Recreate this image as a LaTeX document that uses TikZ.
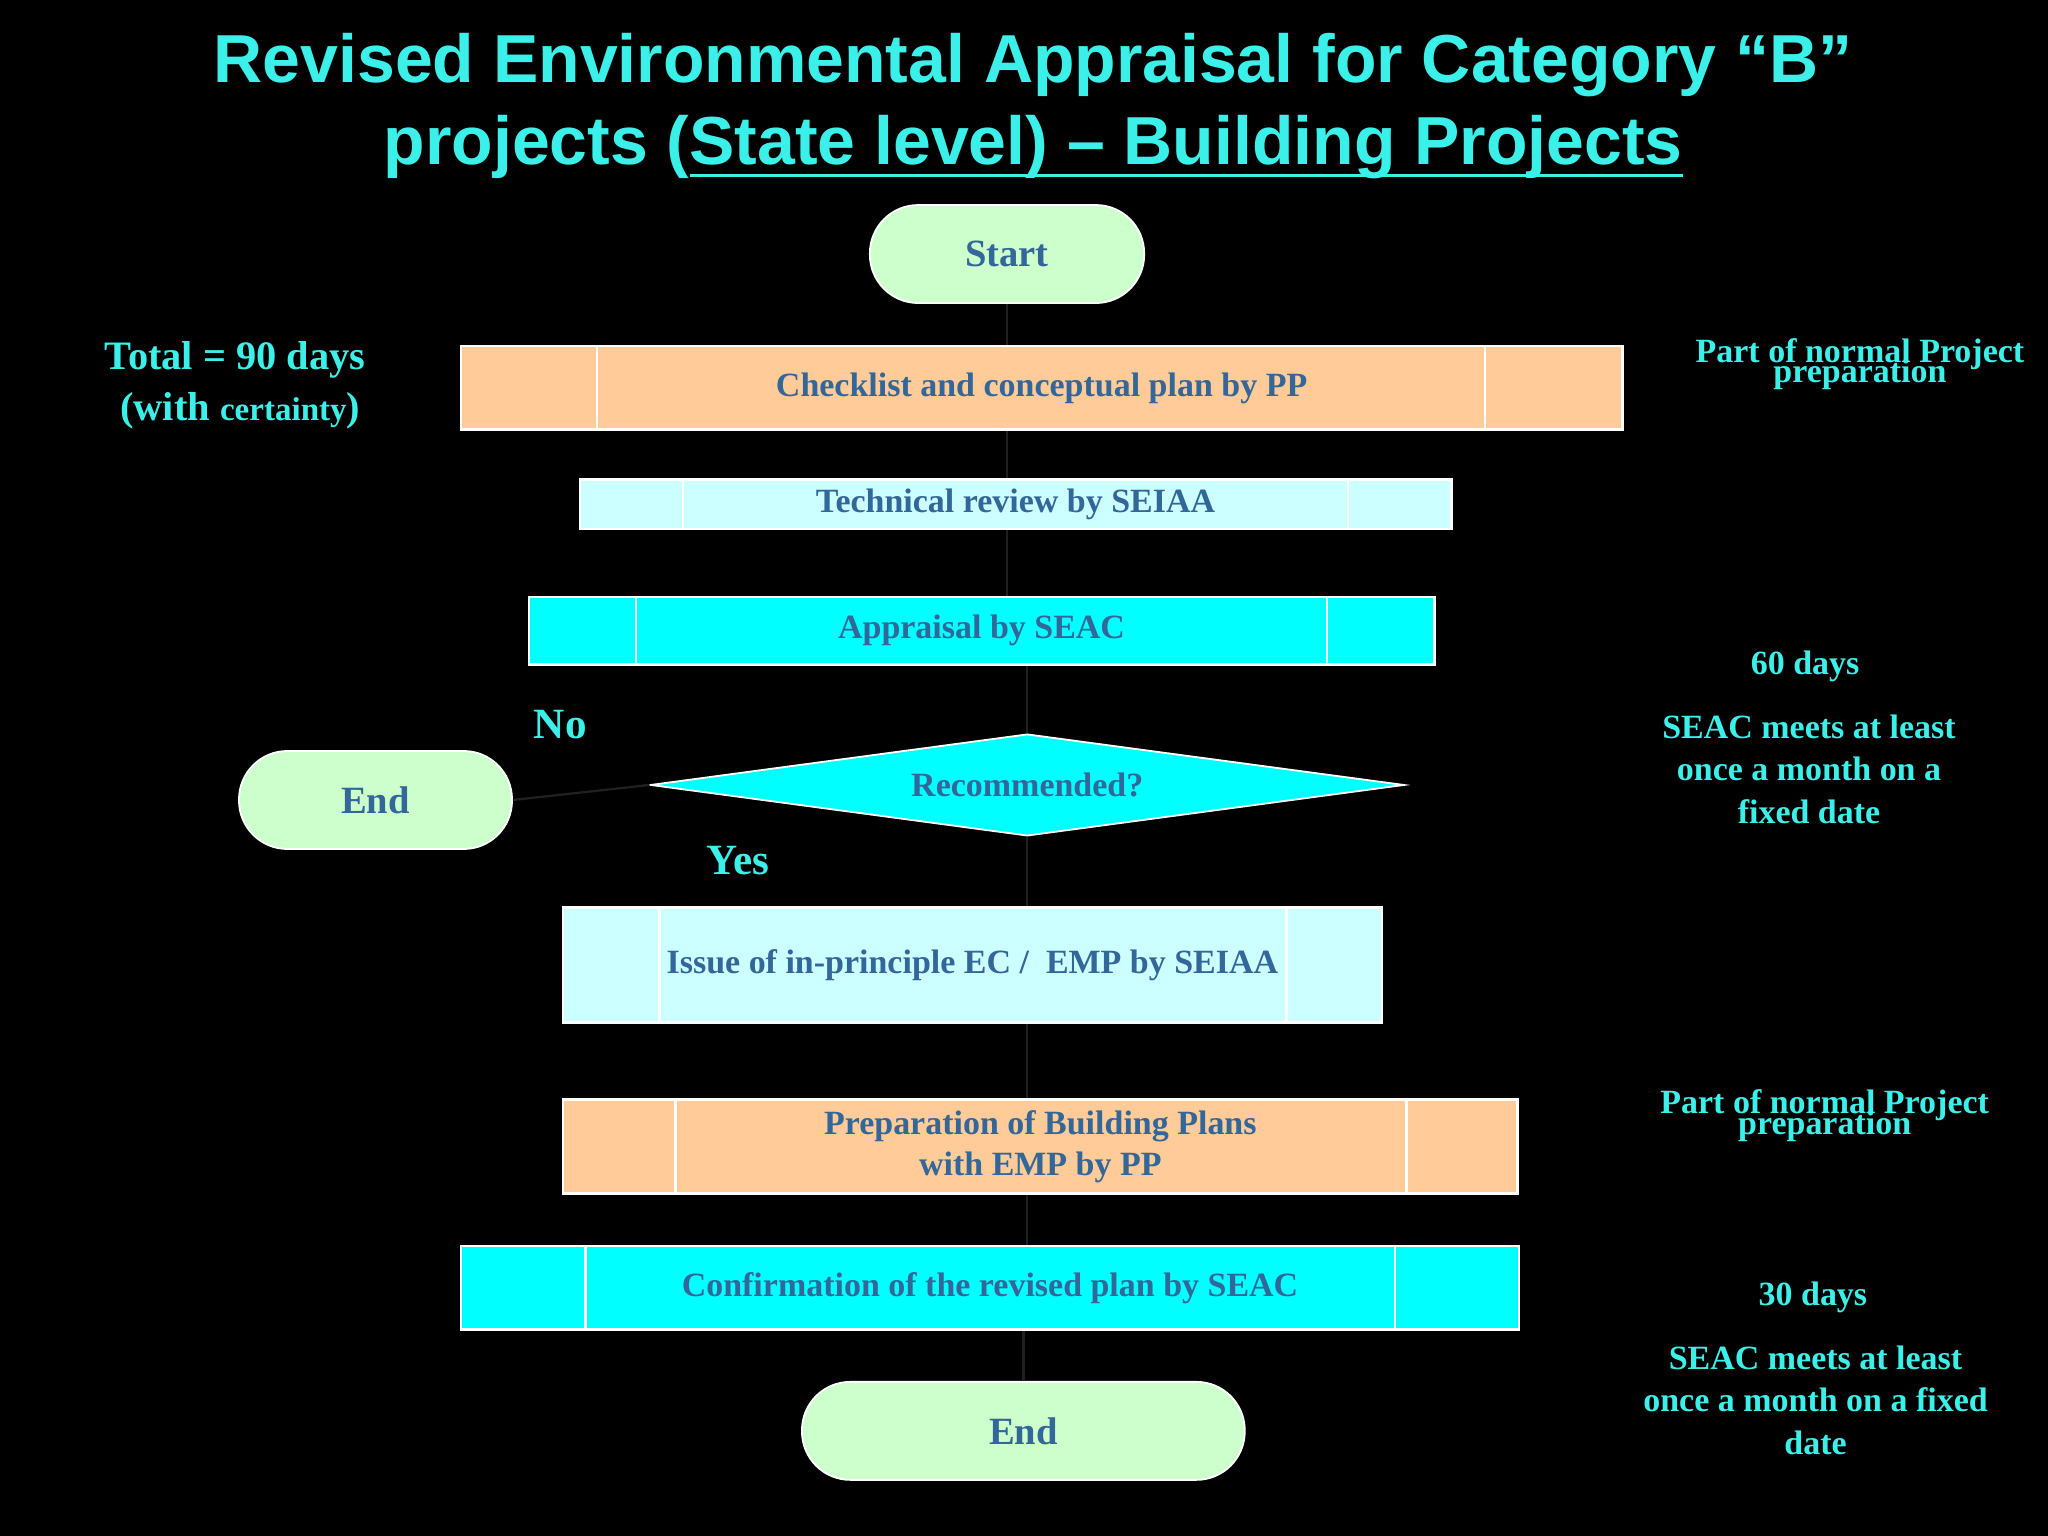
\documentclass[tikz,border=0pt]{standalone}
\usepackage{fontspec}
\setmainfont{Liberation Serif}
\newfontfamily\titlefont{Liberation Sans}
\usetikzlibrary{shapes.geometric}
\definecolor{tcyan}{HTML}{3CF0EA}
\definecolor{tblue}{HTML}{336699}
\definecolor{peach}{HTML}{FFCC99}
\definecolor{lcyan}{HTML}{CCFFFF}
\definecolor{fcyan}{HTML}{00FFFF}
\definecolor{lgreen}{HTML}{CCFFCC}
\definecolor{conn}{HTML}{202020}
\newcommand{\myul}[1]{\setbox0\hbox{#1}\rlap{\rule[-0.09cm]{\wd0}{0.6pt}}\box0}
\tikzset{
 procbox/.style={draw=white,line width=0.6pt,inner sep=0pt,font=\fontsize{7.4}{9}\selectfont\bfseries,text=tblue,align=center},
 term/.style={draw=white,fill=lgreen,rounded corners=0.37cm,inner sep=0pt,font=\fontsize{8.4}{10}\selectfont\bfseries,text=tblue},
 side/.style={text=tcyan,font=\fontsize{7.4}{9.3}\selectfont\bfseries,align=center},
 conline/.style={draw=conn,line width=0.5pt}
}
\begin{document}
\begin{tikzpicture}
\fill[black] (0,0) rectangle (15.68,-11.76);
\useasboundingbox (0,0) rectangle (15.68,-11.76);
% title
\node[text=tcyan,font=\titlefont\fontsize{14.8}{17}\selectfont\bfseries] (t1) at (7.91,-0.50) {Revised Environmental Appraisal for Category “B”};
\node[text=tcyan,font=\titlefont\fontsize{14.8}{17}\selectfont\bfseries] (t2) at (7.91,-1.13) {projects (\myul{State level) – Building Projects}};
% nodes
\node[term,minimum width=2.10cm,minimum height=0.75cm] (start) at (7.71,-1.945) {Start};
\node[procbox,fill=peach,minimum width=8.89cm,minimum height=0.64cm] (chk) at (7.975,-2.97) {Checklist and conceptual plan by PP};
\node[procbox,fill=lcyan,minimum width=6.67cm,minimum height=0.38cm] (tech) at (7.775,-3.86) {Technical review by SEIAA};
\node[procbox,fill=fcyan,minimum width=6.93cm,minimum height=0.52cm] (app) at (7.515,-4.83) {Appraisal by SEAC};
\node[diamond,draw=white,fill=fcyan,aspect=7.4,minimum width=5.77cm,minimum height=0.78cm,inner sep=0pt,font=\fontsize{7.4}{9}\selectfont\bfseries,text=tblue] (dec) at (7.865,-6.01) {Recommended?};
\node[term,minimum width=2.09cm,minimum height=0.75cm] (end1) at (2.875,-6.125) {End};
\node[procbox,fill=lcyan,minimum width=6.27cm,minimum height=0.88cm] (iss) at (7.445,-7.39) {Issue of in-principle EC /\ \ EMP by SEIAA};
\node[procbox,fill=peach,minimum width=7.31cm,minimum height=0.72cm] (prep) at (7.965,-8.78) {Preparation of Building Plans\\with EMP by PP};
\node[procbox,fill=fcyan,minimum width=8.10cm,minimum height=0.64cm] (conf) at (7.58,-9.86) {Confirmation of the revised plan by SEAC};
\node[term,minimum width=3.39cm,minimum height=0.75cm] (end2) at (7.835,-10.955) {End};
% inner lines
\draw[white,line width=0.6pt] (4.57,-2.65) -- (4.57,-3.29) (11.37,-2.65) -- (11.37,-3.29);
\draw[white,line width=0.6pt] (5.23,-3.67) -- (5.23,-4.05) (10.32,-3.67) -- (10.32,-4.05);
\draw[white,line width=0.6pt] (4.87,-4.57) -- (4.87,-5.09) (10.16,-4.57) -- (10.16,-5.09);
\draw[white,line width=0.6pt] (5.05,-6.95) -- (5.05,-7.83) (9.85,-6.95) -- (9.85,-7.83);
\draw[white,line width=0.6pt] (5.17,-8.42) -- (5.17,-9.14) (10.77,-8.42) -- (10.77,-9.14);
\draw[white,line width=0.6pt] (4.48,-9.54) -- (4.48,-10.18) (10.68,-9.54) -- (10.68,-10.18);
% connectors
\draw[conline] (start.south) -- (start.south |- chk.north);
\draw[conline] (start.south |- chk.south) -- (start.south |- tech.north);
\draw[conline] (start.south |- tech.south) -- (start.south |- app.north);
\draw[conline] (dec.north |- app.south) -- (dec.north);
\draw[conline] (dec.south) -- (dec.south |- iss.north);
\draw[conline] (dec.west) -- (end1.east);
\draw[conline] (dec.south |- iss.south) -- (dec.south |- prep.north);
\draw[conline] (dec.south |- prep.south) -- (dec.south |- conf.north);
\draw[conline] (end2.north |- conf.south) -- (end2.north);
% labels
\node[text=tcyan,font=\fontsize{9.4}{11}\selectfont\bfseries] (no) at (4.29,-5.55) {No};
\node[text=tcyan,font=\fontsize{9.4}{11}\selectfont\bfseries] (yes) at (5.65,-6.59) {Yes};
\node[side,font=\fontsize{8.8}{11}\selectfont\bfseries] (total) at (1.80,-2.95) {Total = 90 days\\\ (with {\fontsize{7.2}{8}\selectfont certainty})};
\node[side] (pn1) at (14.24,-2.79) {Part of normal Project\\[-0.17cm]preparation};
\node[side] (d60) at (13.82,-5.10) {60 days};
\node[side] (s1) at (13.85,-5.89) {SEAC meets at least\\once a month on a\\fixed date};
\node[side] (pn2) at (13.97,-8.54) {Part of normal Project\\[-0.17cm]preparation};
\node[side] (d30) at (13.88,-9.93) {30 days};
\node[side] (s2) at (13.90,-10.72) {SEAC meets at least\\once a month on a fixed\\date};
\end{tikzpicture}
\end{document}
